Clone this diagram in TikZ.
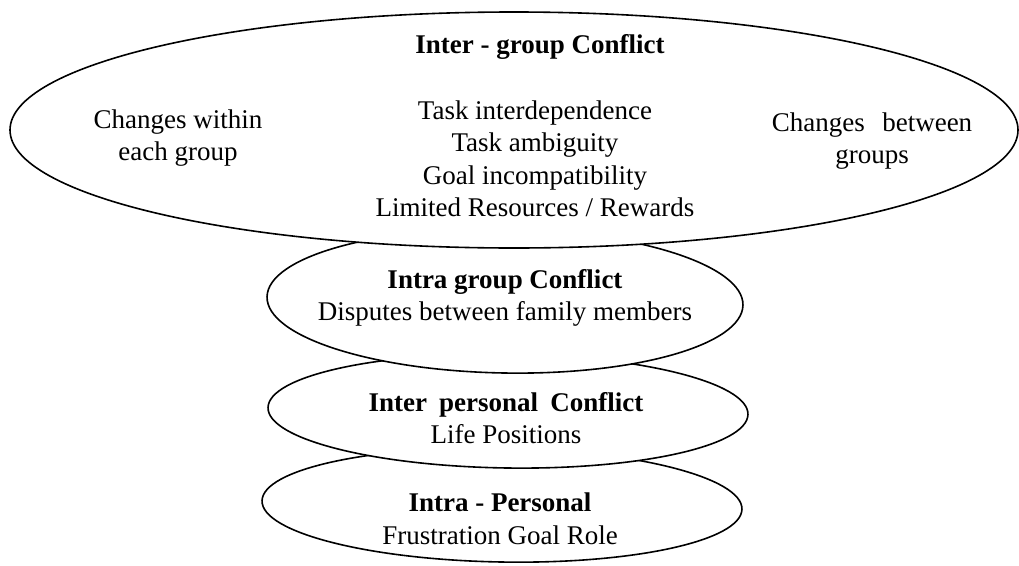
\documentclass[tikz,border=0pt]{standalone}
\usepackage{fontspec}
\setmainfont{Liberation Serif}
\usetikzlibrary{shapes.geometric}
\begin{document}
\begin{tikzpicture}[x=1pt,y=-1pt,
  layer/.style={ellipse, draw=black, fill=white, line width=1.6pt, inner sep=0pt},
  txt/.style={align=center, inner sep=0pt, font=\fontsize{27}{32.5}\selectfont}]
\useasboundingbox (0,0) rectangle (1019,565);
% stacked ellipses, lowest first so each upper one covers the top of the one below
\node[layer, minimum width=480pt, minimum height=114pt, rotate=-1] (intrap) at (502,505) {};
\node[layer, minimum width=480pt, minimum height=114pt, rotate=-0.8] (interp) at (508,411) {};
\node[layer, minimum width=476pt, minimum height=144pt, rotate=-1] (intrag) at (505,301) {};
\node[layer, minimum width=1008pt, minimum height=236pt] (interg) at (514,130) {};
% texts of the outer ellipse
\node[txt] (title) at (540,47) {\textbf{Inter - group Conflict}};
\node[txt] (causes) at (535,159) {Task interdependence\\Task ambiguity\\Goal incompatibility\\Limited Resources / Rewards};
\node[txt] (within) at (178,138) {Changes within\\each group};
\node[txt] (between) at (872,141) {Changes\hspace{0.4em} between\\groups};
% texts of the inner ellipses
\node[txt] (intragt) at (505,298) {\textbf{Intra group Conflict}\\Disputes between family members};
\node[txt] (interpt) at (506,418) {\textbf{Inter\hspace{0.2em} personal\hspace{0.2em} Conflict}\\Life Positions};
\node[txt] (intrapt) at (500,519) {\textbf{Intra - Personal}\\Frustration Goal Role};
\end{tikzpicture}
\end{document}
